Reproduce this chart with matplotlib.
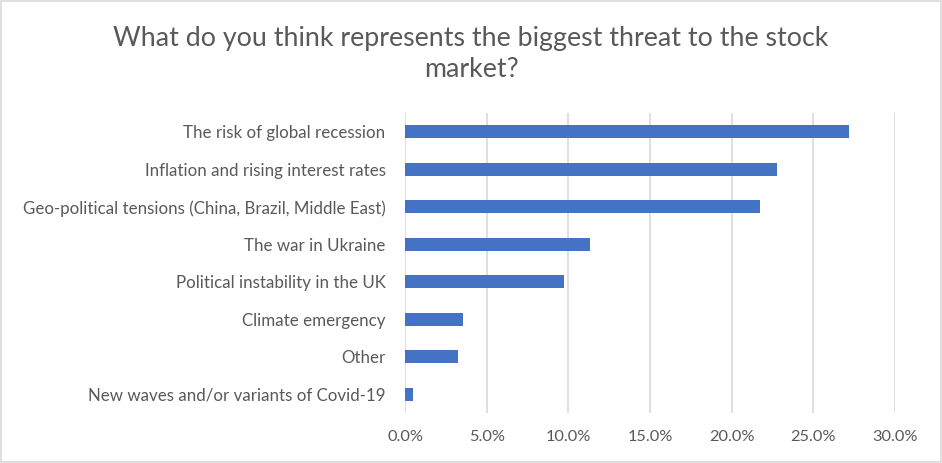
import matplotlib.pyplot as plt
from matplotlib.patches import Rectangle
from matplotlib.ticker import FuncFormatter

categories = [
    "The risk of global recession",
    "Inflation and rising interest rates",
    "Geo-political tensions (China, Brazil, Middle East)",
    "The war in Ukraine",
    "Political instability in the UK",
    "Climate emergency",
    "Other",
    "New waves and/or variants of Covid-19",
]
shares = [0.272, 0.228, 0.2175, 0.1134, 0.0974, 0.0355, 0.0325, 0.0049]
x_ticks = [0.0, 0.05, 0.10, 0.15, 0.20, 0.25, 0.30]

TEXT = '#595959'
plt.rcParams['font.family'] = ['Lato', 'DejaVu Sans']

fig = plt.figure(figsize=(9.42, 4.63), dpi=100)
fig.patches.append(Rectangle((0.001, 0.002), 0.998, 0.996, transform=fig.transFigure,
                             fill=False, edgecolor='#d9d9d9', linewidth=1.2))

ax = fig.add_axes([405 / 942, 50 / 463, 490 / 942, 300 / 463])
y = list(range(len(categories)))
ax.barh(y, shares, height=0.35, color='#4472c4', zorder=3)
ax.set_ylim(len(categories) - 0.5, -0.5)
ax.set_xlim(0, 0.30)
ax.set_xticks(x_ticks)
ax.xaxis.set_major_formatter(FuncFormatter(lambda v, p: f"{v * 100:.1f}%"))
ax.set_yticks(y)
ax.set_yticklabels(categories)
ax.grid(axis='x', color='#d9d9d9', linewidth=1.2, zorder=0)
for s in ax.spines.values():
    s.set_visible(False)
ax.tick_params(axis='both', length=0, colors=TEXT)
ax.tick_params(axis='y', pad=14, labelsize=12.2)
ax.tick_params(axis='x', pad=12, labelsize=11.8)

fig.text(0.5, 0.883, "What do you think represents the biggest threat to the stock\nmarket?",
         ha='center', va='center', fontsize=19.3, color=TEXT, linespacing=1.3)

fig.savefig('out.png', dpi=100)
